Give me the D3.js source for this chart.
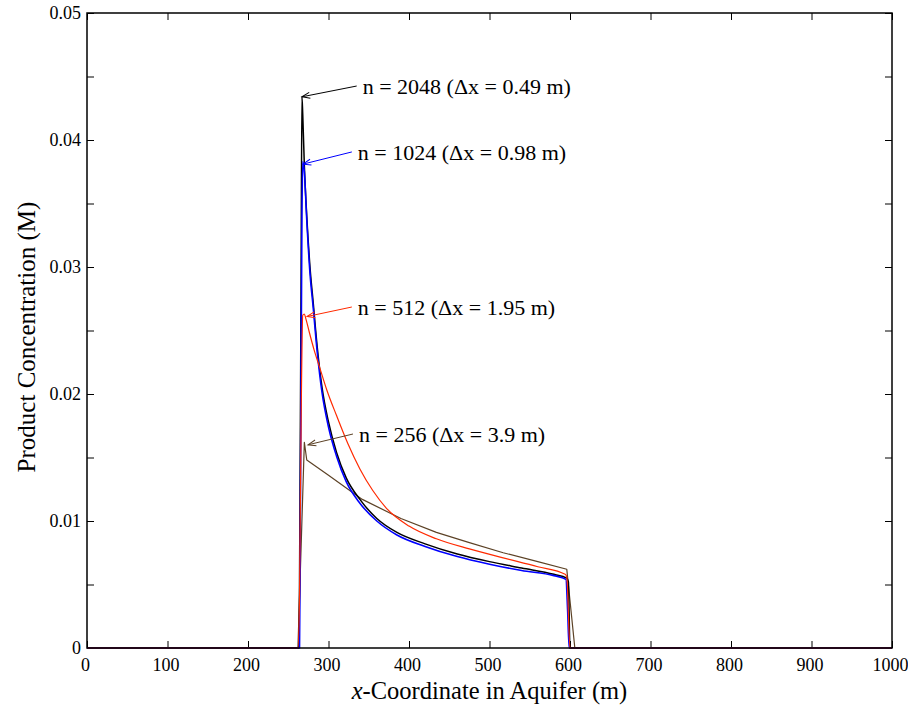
<!DOCTYPE html>
<html>
<head>
<meta charset="utf-8">
<script src="https://cdn.jsdelivr.net/npm/d3@7"></script>
<style>
  body { margin: 0; background: #fff; }
  svg text { font-family: "Liberation Serif", "Times New Roman", serif; }
</style>
</head>
<body>
<div id="chart"></div>
<script>
// data (x in m, concentration in M)
var x2048 = [0, 263, 264, 266, 267, 268, 270, 273, 277, 281, 286, 292, 300, 310, 322, 339, 360, 385, 420, 460, 500, 540, 580, 596, 598, 600, 1000];
var c2048 = [0, 0, 0.005, 0.03, 0.0434, 0.042, 0.038, 0.034, 0.030, 0.0272, 0.0237, 0.0205, 0.0178, 0.0154, 0.0134, 0.0117, 0.0102, 0.0091, 0.0082, 0.0074, 0.0068, 0.0063, 0.0058, 0.0055, 0.0052, 0, 0];

var x1024 = [0, 264, 265, 267, 268, 270, 273, 277, 281, 286, 292, 300, 310, 322, 339, 360, 385, 420, 460, 500, 540, 580, 595, 597, 599, 1000];
var c1024 = [0, 0, 0.01, 0.034, 0.0383, 0.0375, 0.0337, 0.0295, 0.0268, 0.0233, 0.0201, 0.0174, 0.0151, 0.0131, 0.0114, 0.0100, 0.0089, 0.0080, 0.0072, 0.0066, 0.0061, 0.0057, 0.0054, 0.0030, 0, 0];

var x512 = [0, 262, 264, 266, 268, 270, 272, 276, 282, 289, 298, 310, 324, 339, 355, 372, 400, 434, 475, 517, 560, 594, 596, 600, 1000];
var c512 = [0, 0, 0.004, 0.018, 0.0262, 0.0263, 0.0259, 0.0249, 0.0235, 0.0221, 0.0203, 0.0183, 0.0161, 0.0141, 0.0124, 0.0110, 0.0096, 0.0086, 0.0078, 0.0071, 0.0064, 0.0058, 0.0056, 0, 0];

var x256 = [0, 262, 266, 270, 273, 300, 342, 390, 434, 475, 517, 560, 596, 606, 1000];
var c256 = [0, 0, 0.008, 0.0162, 0.0148, 0.0136, 0.0117, 0.0102, 0.0091, 0.0083, 0.0075, 0.0068, 0.0062, 0, 0];

var seriesNames = ['n = 2048 (Δx = 0.49 m)', 'n = 1024 (Δx = 0.98 m)', 'n = 512 (Δx = 1.95 m)', 'n = 256 (Δx = 3.9 m)'];
// arrow tip on the curve, arrow tail / label anchor (data units)
var tipX = [267, 268.3, 273.3, 274.5];
var tipY = [0.0434, 0.0381, 0.0261, 0.0160];
var tailX = [335, 329, 329, 330.4];
var tailY = [0.04425, 0.03906, 0.02685, 0.01685];

var xTicks = [0, 100, 200, 300, 400, 500, 600, 700, 800, 900, 1000];
var yTicks = [0, 0.005, 0.01, 0.015, 0.02, 0.025, 0.03, 0.035, 0.04, 0.045, 0.05];

var width = 908, height = 715;
var margin = {top: 13, right: 16, bottom: 67, left: 87};

var svg = d3.select('#chart').append('svg').attr('width', width).attr('height', height);

var x = d3.scaleLinear().domain([0, 1000]).range([margin.left, width - margin.right]);
var y = d3.scaleLinear().domain([0, 0.05]).range([height - margin.bottom, margin.top]);

var colors = ['#000000', '#0000ff', '#ff2a00', '#5c4226'];
var widths = [1.5, 1.6, 1.2, 1.2];

// markers (open arrow heads)
var defs = svg.append('defs');
colors.forEach(function(c, i) {
  defs.append('marker')
    .attr('id', 'arr' + i)
    .attr('markerUnits', 'userSpaceOnUse')
    .attr('viewBox', '-10 -5 12 10')
    .attr('refX', 0).attr('refY', 0)
    .attr('markerWidth', 12).attr('markerHeight', 10)
    .attr('orient', 'auto')
    .append('path')
    .attr('d', 'M-8,-3 L0,0 L-8,3')
    .attr('fill', 'none').attr('stroke', c).attr('stroke-width', 1);
});

var fmtY = function(d) { return Math.abs(d * 100 - Math.round(d * 100)) < 1e-9 ? (d === 0 ? '0' : d3.format('.2f')(d)) : ''; };

// axes with inward ticks
var gl = svg.append('g').attr('transform', 'translate(' + margin.left + ',0)')
  .call(d3.axisLeft(y).tickValues(yTicks).tickSize(-7).tickPadding(6).tickFormat(fmtY));
var gr = svg.append('g').attr('transform', 'translate(' + (width - margin.right) + ',0)')
  .call(d3.axisRight(y).tickValues(yTicks).tickSize(-7).tickFormat(''));
var gb = svg.append('g').attr('transform', 'translate(0,' + (height - margin.bottom) + ')')
  .call(d3.axisBottom(x).tickValues(xTicks).tickSize(-7).tickPadding(10).tickFormat(d3.format('d')));
var gt = svg.append('g').attr('transform', 'translate(0,' + margin.top + ')')
  .call(d3.axisTop(x).tickValues(xTicks).tickSize(-7).tickFormat(''));

[gl, gr, gb, gt].forEach(function(g) {
  g.select('.domain').remove();
  g.selectAll('.tick line').attr('stroke', '#000').attr('stroke-width', 1);
  g.selectAll('text').attr('font-size', 18).attr('fill', '#000')
    .style('font-family', '"Liberation Serif", "Times New Roman", serif');
});
gb.selectAll('text').attr('dx', -2);

// lines (the coarse n = 256 run is drawn piecewise linear, it has a sharp kink)
var smooth = d3.line().curve(d3.curveMonotoneX)
  .x(function(d) { return x(d[0]); }).y(function(d) { return y(d[1]); });
var straight = d3.line()
  .x(function(d) { return x(d[0]); }).y(function(d) { return y(d[1]); });
var seriesX = [x2048, x1024, x512, x256];
var seriesC = [c2048, c1024, c512, c256];
var order = [3, 0, 1, 2];
order.forEach(function(i) {
  var pts = d3.zip(seriesX[i], seriesC[i]);
  var gen = i === 3 ? straight : smooth;
  svg.append('path')
    .attr('d', gen(pts))
    .attr('fill', 'none')
    .attr('stroke', colors[i])
    .attr('stroke-width', widths[i])
    .attr('stroke-linejoin', 'round');
});

// frame
svg.append('rect')
  .attr('x', x(0)).attr('y', y(0.05))
  .attr('width', x(1000) - x(0)).attr('height', y(0) - y(0.05))
  .attr('fill', 'none').attr('stroke', '#000').attr('stroke-width', 1.5);

// annotations
seriesNames.forEach(function(name, i) {
  svg.append('line')
    .attr('x1', x(tailX[i])).attr('y1', y(tailY[i]))
    .attr('x2', x(tipX[i])).attr('y2', y(tipY[i]))
    .attr('stroke', colors[i]).attr('stroke-width', 1)
    .attr('marker-end', 'url(#arr' + i + ')');
  svg.append('text')
    .attr('x', x(tailX[i]) + 6)
    .attr('y', y(tailY[i]))
    .attr('dy', '0.35em')
    .attr('font-size', 22)
    .attr('fill', '#000')
    .text(name);
});

// axis titles
var xt = svg.append('text')
  .attr('x', (x(0) + x(1000)) / 2)
  .attr('y', 699)
  .attr('text-anchor', 'middle')
  .attr('font-size', 24.5);
xt.append('tspan').attr('font-style', 'italic').text('x');
xt.append('tspan').text('-Coordinate in Aquifer (m)');

svg.append('text')
  .attr('transform', 'translate(35,' + 337 + ') rotate(-90)')
  .attr('text-anchor', 'middle')
  .attr('font-size', 25)
  .text('Product Concentration (M)');
</script>
</body>
</html>
